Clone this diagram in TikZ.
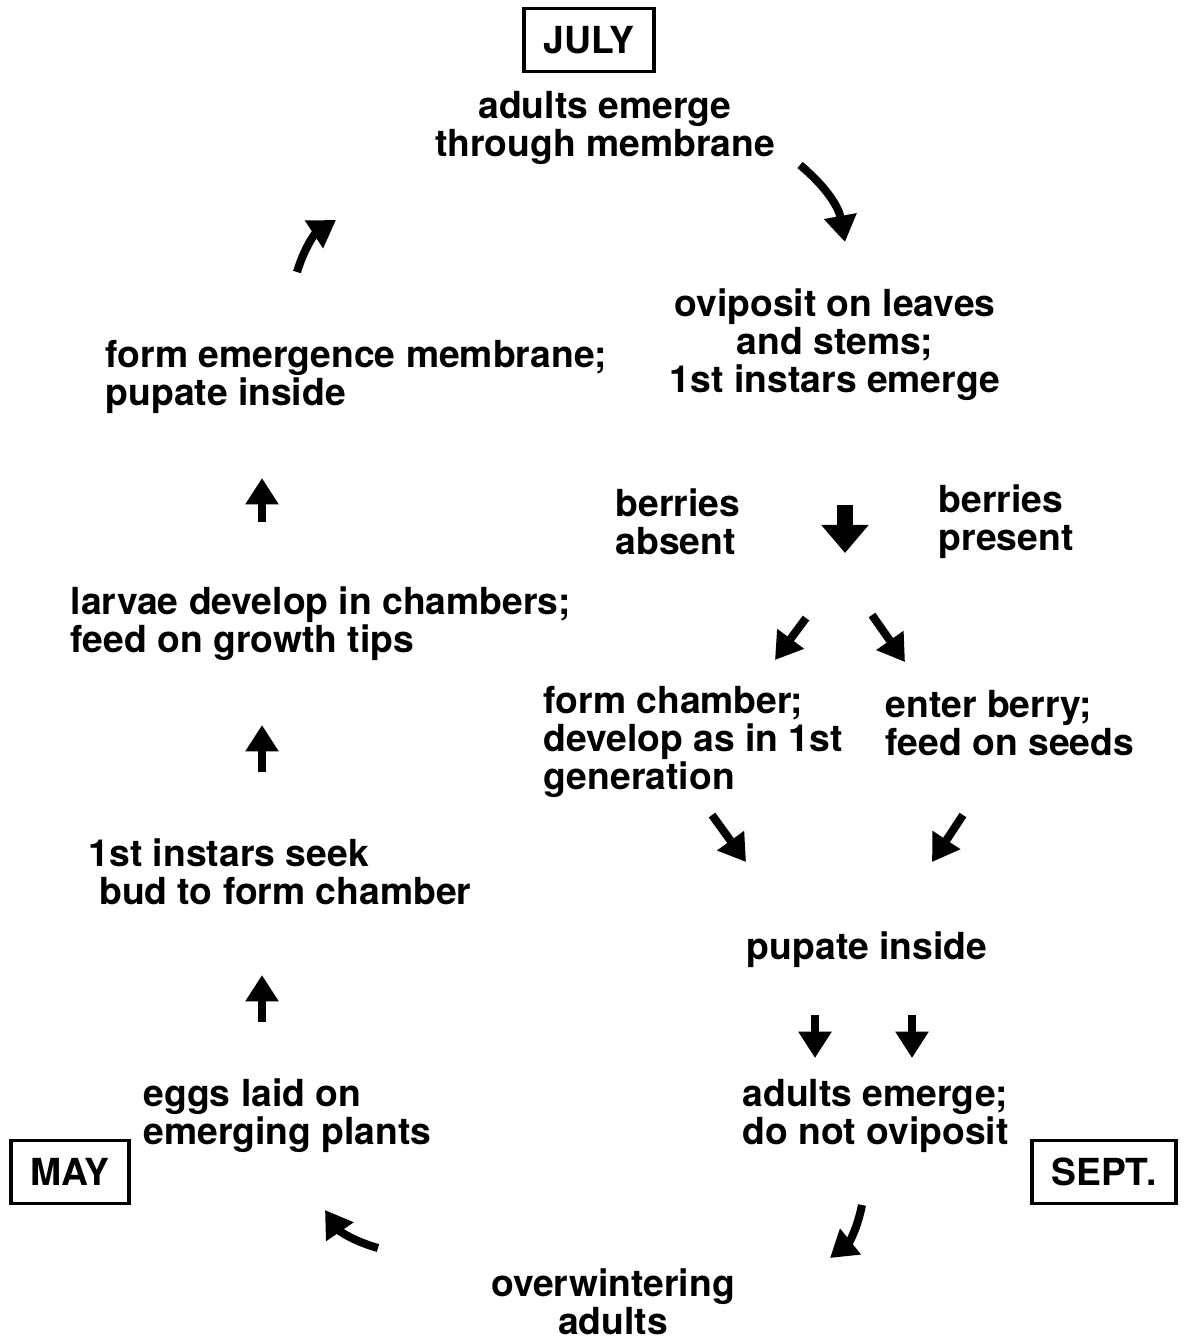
\documentclass[tikz,border=0pt]{standalone}
\usepackage{fontspec}
\setmainfont{TeX Gyre Heros}
\usetikzlibrary{arrows.meta}

\begin{document}
\begin{tikzpicture}[x=0.01cm, y=-0.01cm]
    \tikzstyle{every node} = [font=\fontsize{10.6}{10.8}\selectfont\bfseries, inner sep=0pt]
    \tikzstyle{month} = [draw, line width=0.9pt, inner xsep=5.5pt, inner ysep=5pt]
    \tikzstyle{arr} = [line width=2.3pt, -{Triangle[length=7.5pt, width=9pt]}]

    \useasboundingbox (0,0) rectangle (1186,1338);

    \node [month] (jul) at (589, 40) {JULY};
    \node [month] (may) at (70, 1172) {MAY};
    \node [month] (sep) at (1104, 1172) {SEPT.};

    \node (a) at (605, 128) [align=center] {adults emerge \\ through membrane};
    \node (b) at (835, 345) [align=center] {oviposit on leaves \\ and stems; \\ 1st instars emerge};
    \node (c) at (105, 377) [anchor=west, align=left] {form emergence membrane; \\ pupate inside};
    \node (d) at (615, 522) [anchor=west, align=left] {berries \\ absent};
    \node (e) at (938, 522) [anchor=west, align=left] {berries \\ present};
    \node (f) at (70, 624) [anchor=west, align=left] {larvae develop in chambers; \\ feed on growth tips};
    \node (g) at (543, 742) [anchor=west, align=left] {form chamber; \\ develop as in 1st \\ generation};
    \node (h) at (885, 723) [anchor=west, align=left] {enter berry; \\ feed on seeds};
    \node (i) at (88, 872) [anchor=west, align=left] {1st instars seek \\ \hspace*{3pt}bud to form chamber};
    \node (j) at (867, 950) {pupate inside};
    \node (k) at (143, 1116) [anchor=west, align=left] {eggs laid on \\ emerging plants};
    \node (l) at (742, 1116) [anchor=west, align=left] {adults emerge; \\ do not oviposit};
    \node (m) at (613, 1302) [align=center] {overwintering \\ adults};

    % arrow ends
    \coordinate (a1) at (800, 165);   \coordinate (a2) at (845, 242);
    \coordinate (c1) at (297, 272);   \coordinate (c2) at (336, 220);
    \coordinate (f1) at (262, 522);   \coordinate (f2) at (262, 478);
    \coordinate (i1) at (262, 772);   \coordinate (i2) at (262, 725);
    \coordinate (k1) at (262, 1022);  \coordinate (k2) at (262, 975);
    \coordinate (b1) at (845, 505);   \coordinate (b2) at (845, 553);
    \coordinate (d1) at (806, 618);   \coordinate (d2) at (775, 660);
    \coordinate (e1) at (872, 615);   \coordinate (e2) at (905, 662);
    \coordinate (g1) at (712, 815);   \coordinate (g2) at (746, 862);
    \coordinate (h1) at (963, 815);   \coordinate (h2) at (932, 862);
    \coordinate (j1) at (815, 1015);  \coordinate (j2) at (815, 1058);
    \coordinate (j3) at (912, 1015);  \coordinate (j4) at (912, 1058);
    \coordinate (m1) at (378, 1248);  \coordinate (m2) at (325, 1210);
    \coordinate (l1) at (862, 1205);  \coordinate (l2) at (830, 1258);

    \draw [arr] (a1) to [bend left=20] (a2);
    \draw [arr] (c1) to [bend left=20] (c2);
    \draw [arr] (f1) -- (f2);
    \draw [arr] (i1) -- (i2);
    \draw [arr] (k1) -- (k2);
    \draw [arr, line width=4.5pt, -{Triangle[length=8pt, width=13pt]}] (b1) -- (b2);
    \draw [arr] (d1) -- (d2);
    \draw [arr] (e1) -- (e2);
    \draw [arr] (g1) -- (g2);
    \draw [arr] (h1) -- (h2);
    \draw [arr] (j1) -- (j2);
    \draw [arr] (j3) -- (j4);
    \draw [arr] (m1) to [bend left=20] (m2);
    \draw [arr] (l1) to [bend left=20] (l2);
\end{tikzpicture}
\end{document}
